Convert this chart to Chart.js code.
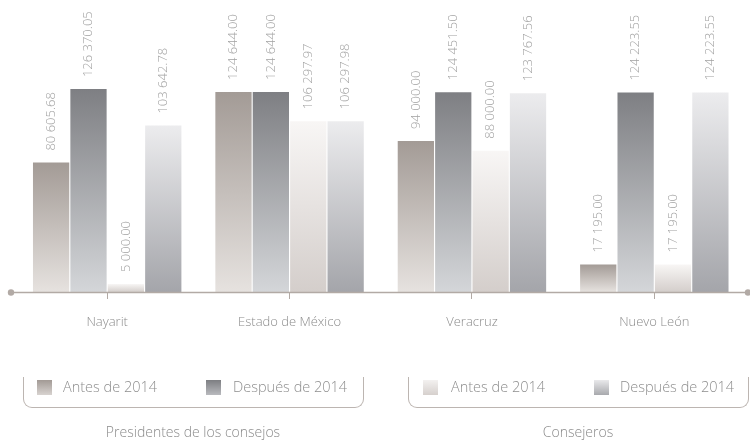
<!DOCTYPE html>
<html>
<head>
<meta charset="utf-8">
<script src="https://cdn.jsdelivr.net/npm/chart.js@4/dist/chart.umd.min.js"></script>
<style>
  html, body { margin: 0; padding: 0; background: #ffffff; }
  body { width: 750px; height: 442px; position: relative; overflow: hidden; font-family: "Open Sans", "DejaVu Sans", sans-serif; }
  #wrap { position: absolute; left: 0; top: 0; width: 750px; height: 442px; }
  .box { position: absolute; box-sizing: border-box; border: 1px solid #bcb5b1; border-top: none; border-radius: 0 0 9px 9px; height: 31px; }
  .sw { position: absolute; width: 15px; height: 15px; top: 3px; }
  .lt { position: absolute; top: 0; font-size: 14.5px; font-weight: 300; color: #8e8e8e; line-height: 20px; white-space: nowrap; }
  .cap { position: absolute; font-size: 14px; font-weight: 300; color: #8a8a8a; line-height: 20px; white-space: nowrap; transform: translateX(-50%); }
</style>
</head>
<body>
<div id="wrap"><canvas id="c"></canvas></div>
<div id="legend"></div>
<script>
// ---- data ----
const categories = ['Nayarit', 'Estado de México', 'Veracruz', 'Nuevo León'];
const presidentesAntes   = [80605.68, 124644.00, 94000.00, 17195.00];
const presidentesDespues = [126370.05, 124644.00, 124451.50, 124223.55];
const consejerosAntes    = [5000.00, 106297.97, 88000.00, 17195.00];
const consejerosDespues  = [103642.78, 106297.98, 123767.56, 124223.55];
const seriesLabels = ['Antes de 2014', 'Después de 2014'];
const groupLabels = ['Presidentes de los consejos', 'Consejeros'];

// ---- styles ----
const gradients = [
  ['#a39b96', '#e6e2df'],  // presidentes antes
  ['#7e7f83', '#d4d6d9'],  // presidentes después
  ['#f8f6f5', '#d4cecb'],  // consejeros antes
  ['#ececee', '#a4a5aa']   // consejeros después
];
const swatchGradients = [
  ['#a29a95', '#d8d3d0'],
  ['#7d7e82', '#b9babe'],
  ['#f3f1f0', '#d6d0cd'],
  ['#e9e9eb', '#a8a9ad']
];

function fmt(v) {
  const p = v.toFixed(2).split('.');
  return p[0].replace(/\B(?=(\d{3})+(?!\d))/g, ' ') + '.' + p[1];
}

function gradFill(idx) {
  return function (ctx) {
    const chart = ctx.chart;
    const area = chart.chartArea;
    const y = chart.scales && chart.scales.y;
    if (!area || !y || ctx.type !== 'data') return gradients[idx][0];
    const top = y.getPixelForValue(ctx.raw);
    const bot = y.getPixelForValue(0);
    const g = chart.ctx.createLinearGradient(0, top, 0, bot);
    g.addColorStop(0, gradients[idx][0]);
    g.addColorStop(1, gradients[idx][1]);
    return g;
  };
}

const seriesData = [presidentesAntes, presidentesDespues, consejerosAntes, consejerosDespues];
const datasets = seriesData.map((d, i) => ({
  label: groupLabels[i < 2 ? 0 : 1] + ' - ' + seriesLabels[i % 2],
  data: d,
  backgroundColor: gradFill(i),
  borderWidth: 0,
  categoryPercentage: 0.82,
  barPercentage: 0.97
}));

const axisColor = '#b2aaa5';

const decorPlugin = {
  id: 'decor',
  afterDatasetsDraw(chart) {
    const { ctx, chartArea } = chart;
    const yAxis = chartArea.bottom + 0.5;
    const x0 = chartArea.left - 5;
    const x1 = chartArea.right + 2.5;
    ctx.save();
    ctx.strokeStyle = axisColor;
    ctx.lineWidth = 1.5;
    ctx.beginPath();
    ctx.moveTo(x0, yAxis);
    ctx.lineTo(x1, yAxis);
    ctx.stroke();
    ctx.fillStyle = axisColor;
    [x0, x1].forEach(x => {
      ctx.beginPath();
      ctx.arc(x, yAxis, 3.2, 0, Math.PI * 2);
      ctx.fill();
    });
    // value labels
    ctx.font = '300 13px "Open Sans", sans-serif';
    ctx.fillStyle = '#a2a2a2';
    ctx.textAlign = 'left';
    ctx.textBaseline = 'middle';
    chart.data.datasets.forEach((ds, di) => {
      const meta = chart.getDatasetMeta(di);
      meta.data.forEach((bar, i) => {
        ctx.save();
        ctx.translate(bar.x, bar.y - 12);
        ctx.rotate(-Math.PI / 2);
        ctx.fillText(fmt(ds.data[i]), 0, 0);
        ctx.restore();
      });
    });
    ctx.restore();
  }
};

new Chart(document.getElementById('c'), {
  type: 'bar',
  data: { labels: categories, datasets: datasets },
  options: {
    responsive: true,
    maintainAspectRatio: false,
    animation: false,
    layout: { padding: { top: 3, left: 16, right: 4.5, bottom: 110 } },
    plugins: { legend: { display: false }, tooltip: { enabled: false } },
    scales: {
      x: {
        grid: { display: true, drawOnChartArea: false, drawTicks: true, tickLength: 7, offset: false, color: axisColor, lineWidth: 1 },
        border: { display: false },
        ticks: { padding: 15, color: '#8c8c8c', font: { family: '"Open Sans", sans-serif', size: 13, weight: '300' }, maxRotation: 0 },
        afterFit(s) { s.height = 40; }
      },
      y: { display: false, min: 0, max: 180000 }
    }
  },
  plugins: [decorPlugin]
});

// ---- legend (HTML) ----
const legendDiv = document.getElementById('legend');
const boxes = [
  { left: 23, width: 341, sw: [13, 182], tx: [39, 209], cap: 193 },
  { left: 408, width: 341, sw: [14, 185], tx: [42, 211], cap: 578 }
];
boxes.forEach((b, gi) => {
  const box = document.createElement('div');
  box.className = 'box';
  box.style.left = b.left + 'px';
  box.style.top = '377px';
  box.style.width = b.width + 'px';
  for (let k = 0; k < 2; k++) {
    const sg = swatchGradients[gi * 2 + k];
    const sw = document.createElement('div');
    sw.className = 'sw';
    sw.style.left = b.sw[k] + 'px';
    sw.style.background = 'linear-gradient(to bottom, ' + sg[0] + ', ' + sg[1] + ')';
    box.appendChild(sw);
    const t = document.createElement('div');
    t.className = 'lt';
    t.style.left = b.tx[k] + 'px';
    t.textContent = seriesLabels[k];
    box.appendChild(t);
  }
  legendDiv.appendChild(box);
  const cap = document.createElement('div');
  cap.className = 'cap';
  cap.style.left = b.cap + 'px';
  cap.style.top = '422px';
  cap.textContent = groupLabels[gi];
  legendDiv.appendChild(cap);
});
</script>
</body>
</html>
